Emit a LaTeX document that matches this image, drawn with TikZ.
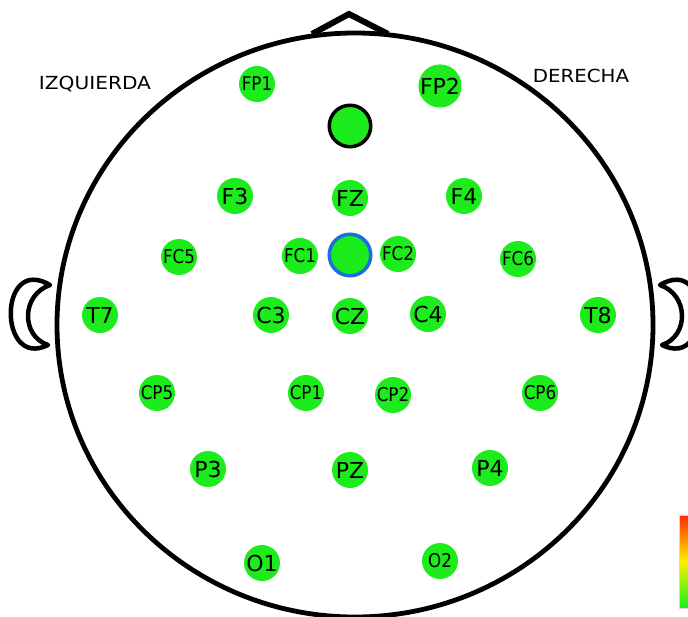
\documentclass[tikz,border=0pt]{standalone}
\usepackage{fontspec}
\setmainfont{DejaVu Sans}
\usepackage{graphicx}
\definecolor{egreen}{RGB}{28,236,28}
\definecolor{eblue}{RGB}{25,110,225}
\definecolor{barframe}{RGB}{235,205,205}
\definecolor{barred}{RGB}{255,40,0}
\definecolor{baryellow}{RGB}{255,240,0}
\definecolor{bargreen}{RGB}{20,240,20}
\begin{document}
\begin{tikzpicture}[x=1pt,y=-1pt,
  elecbig/.style={circle, fill=egreen, minimum size=36pt, inner sep=0pt, font=\fontsize{22}{22}\selectfont},
  elecsmall/.style={circle, fill=egreen, minimum size=36pt, inner sep=0pt, font=\fontsize{19}{19}\selectfont},
  refring/.style={circle, fill=egreen, minimum size=41.5pt, inner sep=0pt, line width=3.5pt},
  sidelabel/.style={font=\fontsize{18}{18}\selectfont, inner sep=0pt},
  outline/.style={line width=4.8pt, black},
  earshape/.style={line width=4.5pt, fill=white, draw=black, line join=round}]
\useasboundingbox (0,0) rectangle (688,616);
% ears
\draw[earshape] (50,285) .. controls (-2,254) and (-2,370) .. (48,345)
   .. controls (21,336) and (21,295) .. cycle;
\draw[earshape] (660,285) .. controls (712,254) and (712,370) .. (662,345)
   .. controls (689,336) and (689,295) .. cycle;
% head
\draw[outline] (355,325) ellipse [x radius=298, y radius=292];
% nose
\coordinate (noseL) at (312,34);
\coordinate (noseT) at (349,14);
\coordinate (noseR) at (388,34);
\draw[line width=6pt, line join=miter] (noseL) -- (noseT) -- (noseR);
% labels
\node[sidelabel] (izq) at (95,84) {\scalebox{1.12}[1]{IZQUIERDA}};
\node[sidelabel] (der) at (581,76) {\scalebox{1.1}[1]{DERECHA}};
% electrodes
\node[elecsmall] (fp1) at (257,84) {\scalebox{0.88}[1]{FP1}};
\node[elecbig]   (fp2) at (440,86) {FP2};
\node[refring, draw=black] (ref) at (350,126) {};
\node[elecbig]   (f3) at (235,196) {F3};
\node[elecbig]   (fz) at (350,198) {FZ};
\node[elecbig]   (f4) at (464,196) {F4};
\node[elecsmall] (fc5) at (179,257) {\scalebox{0.88}[1]{FC5}};
\node[elecsmall] (fc1) at (300,256) {\scalebox{0.88}[1]{FC1}};
\node[refring, draw=eblue] (gnd) at (350,255) {};
\node[elecsmall] (fc2) at (398,254) {\scalebox{0.88}[1]{FC2}};
\node[elecsmall] (fc6) at (518,259) {\scalebox{0.88}[1]{FC6}};
\node[elecbig]   (t7) at (100,315) {T7};
\node[elecbig]   (c3) at (271,315) {C3};
\node[elecbig]   (cz) at (350,316) {CZ};
\node[elecbig]   (c4) at (428,314) {C4};
\node[elecbig]   (t8) at (598,315) {T8};
\node[elecsmall] (cp5) at (157,393) {\scalebox{0.88}[1]{CP5}};
\node[elecsmall] (cp1) at (306,393) {\scalebox{0.88}[1]{CP1}};
\node[elecsmall] (cp2) at (393,395) {\scalebox{0.88}[1]{CP2}};
\node[elecsmall] (cp6) at (540,393) {\scalebox{0.88}[1]{CP6}};
\node[elecbig]   (p3) at (208,469) {P3};
\node[elecbig]   (pz) at (350,470) {PZ};
\node[elecbig]   (p4) at (490,468) {P4};
\node[elecbig]   (o1) at (262,563) {O1};
\node[elecsmall] (o2) at (440,561) {\scalebox{0.88}[1]{O2}};
% colour bar
\shade[top color=barred, bottom color=bargreen, middle color=baryellow] (679,515) rectangle (692,608);
\draw[barframe, line width=0.8pt] (679,515) rectangle (692,608);
\end{tikzpicture}
\end{document}
